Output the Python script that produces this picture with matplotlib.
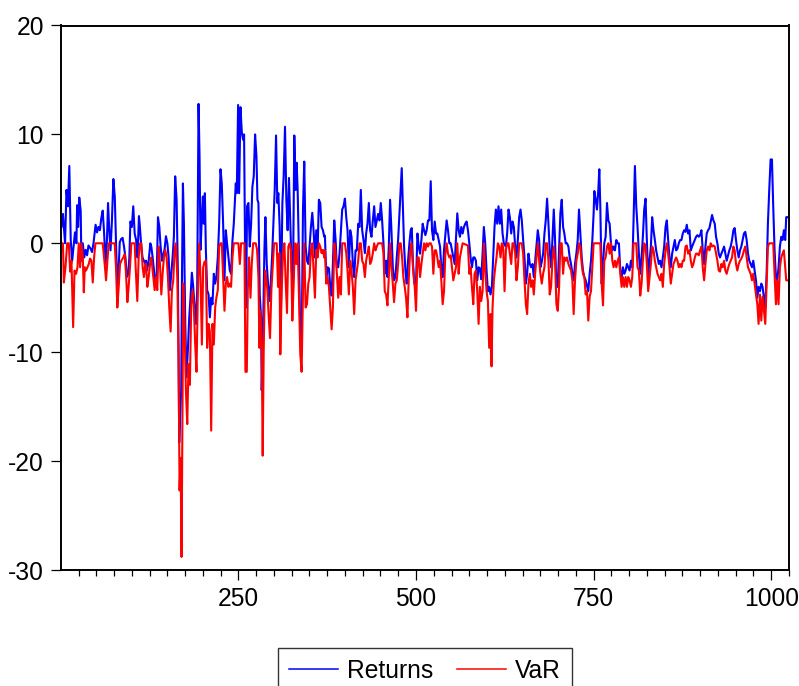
import numpy as np
import matplotlib
matplotlib.use("Agg")
import matplotlib.pyplot as plt
from matplotlib.ticker import MultipleLocator

plt.rcParams['font.family'] = ['Liberation Sans', 'DejaVu Sans']
plt.rcParams['axes.unicode_minus'] = False

# (observation, value) pairs for the return series
returns_pts = [
    (1, 1.5), (3, 2.7), (6, 0), (8, 4.9), (10, 3.4), (12, 7.1), (14, 0.3), (16, -1.6), (18, -0.3),
    (20, 1.0), (22, 0), (23, 3.5), (24.4, 1.5), (26, 4.2), (28, 3.0), (29, -1.6), (31, 0), (33, -1.3),
    (35, -0.6), (37, -1.1), (39, -0.2), (42, -0.5), (44, -0.8), (46, 0), (49, 1.7), (51, 1.0), (53, 1.5),
    (55, 1.2), (57, 2.3), (59, 3.0), (61, 0.9), (63, -1.9), (65, 0.3), (66.5, 3.7), (68, 1.5), (70, -0.65),
    (72, 2.1), (74, 5.9), (76, 4.3), (78, -0.65), (80, -4.7), (81.5, -2.2), (83, 0.1), (85, 0.4), (87, 0.5),
    (89, -0.3), (91, -1.3), (93, -3.1), (95, -2.8), (96.5, -1.3), (98, 2.0), (100, 1.5), (102, 3.4),
    (104, 0.9), (106, 0.3), (108, -1.3), (110, 2.5), (111, 1.8), (113, 0), (115, -1.3), (117, -1.6),
    (119, -1.9),
    (120, -1.6), (121.3, -2.5), (123.7, -1.6), (126, 0), (127.4, -0.3), (129.3, -1.3), (131.2, -2.5),
    (133, -3.6), (135, -3.1), (136.8, 2.4), (138.7, 1.5), (140.5, -0.3), (142.4, -1.6), (144.3, -1.0),
    (146, -0.6), (148, 0.65), (150, 0), (151.8, -1.3), (153.6, -4.3), (155.5, -2.8), (157.4, -1.3),
    (159.2, 0.6), (161, 6.15), (163, 4.0), (164.9, -3.1), (166.7, -18.3), (168, -15.7), (169.5, -13.5),
    (170.5, -3.7), (171.9, 5.5), (173.3, 1.8), (175.2, -7.4), (177, -12.3), (179, -9.6), (180.8, -6.8),
    (182.6, -5.0), (184.5, -2.7), (186.4, -4.0), (188.3, -5.9), (190, -7.4), (192, -4.3), (193.9, 12.8),
    (195.3, 8.0), (196.7, -0.6), (198.6, 2.4), (200, 4.3), (201.4, 1.8), (202.8, 4.6), (204.2, -0.6),
    (206, -4.3), (208, -4.7), (209.8, -6.8), (211.7, -5.0), (213.5, -5.6), (215.4, -2.8), (217.3, -3.7),
    (219, -3.1), (221, -1.3), (222.9, 1.8), (224.8, 6.8), (226.6, 5.5), (228.5, 1.8), (230.4, -3.4),
    (232.3, 1.2), (234, 0), (236, -1.3), (237.9, -2.5), (239.7, -2.8), (241.6, 0.2), (243.5, 1.8),
    (246.3, 5.5), (247.7, 4.6), (249.6, 12.7), (251, 4.6), (252.9, 12.5), (254.8, 10.2), (256.6, 9.5),
    (258, 10.0), (259.4, -0.6), (260.8, -5.9), (262.2, 3.4), (264.1, 3.7), (266, -0.3), (267.9, 1.8),
    (269.7, 5.2), (271.6, 6.15), (273.5, 10.0), (275.4, 8.0), (276.8, 4.0), (278.2, 3.7), (280, -4.7),
    (281.9, -6.8), (282.8, -13.5), (284.7, -8.1), (286.6, -0.6), (288, 2.4), (289.9, -1.9), (291.7, -3.7),
    (293.6, -5.3), (295.5, -3.7), (297.4, -1.3), (299.2, 1.8), (301.1, 4.9), (303, 9.9), (304.8, 3.7),
    (306.2, 4.6), (308.1, 1.5), (310, -5.6), (311.9, 3.7), (313.7, 6.15), (315.6, 10.7), (317.5, 4.0),
    (319.3, 1.2), (321.2, 6.0), (323.1, 1.8), (325, -2.5), (326.8, -3.7), (328.7, 9.9), (330.6, 4.9),
    (332, 7.4), (333.4, 4.9), (335.3, -1.3), (337.1, -8.7), (339, -9.9), (340.9, 3.1), (342.7, 7.5),
    (344.6, -0.3), (346.5, -1.6), (348.4, -1.9), (350.2, -0.3), (352.1, 1.5), (354, 2.8), (355.8, 1.2),
    (357.7, -1.3), (359.6, 1.2), (361.5, -0.6), (363.3, 4.0), (365.2, 3.7), (367.1, 1.5), (369, 1.2),
    (370.8, 0.6),
    (371.8, 0.7), (373.7, -3.1), (375.5, -2.2), (377.4, -2.3), (379.3, -4.0), (381.2, -4.8), (383, -1.9),
    (384.9, 2.1), (386.8, 0.3), (388.6, -2.2), (390.5, -2.2), (392.4, -0.9), (394.3, 1.2), (396.1, 3.1),
    (398, 3.4), (399.9, 4.1), (401.8, 2.4), (403.6, 1.2), (405.5, -2.2), (407.4, 1.2), (409.2, 0.6),
    (411.1, -1.9), (413, -3.1), (414.9, -0.65), (416.7, -0.65), (418.6, 1.8), (420.5, 1.5), (422.3, 4.9),
    (424.2, 1.2), (426.1, 0.3), (428, -0.9), (429.8, 0.9), (431.7, 1.8), (433.6, 3.7), (435.4, 1.2),
    (437.3, 0.6), (439.2, 2.1), (441.1, 3.4), (442.9, 1.5), (444.8, 2.1), (446.7, 2.7), (448.6, 2.1),
    (450.4, 3.7), (452.3, 2.1), (454.2, 0), (456, -2.8), (457.9, -1.6), (459.8, -3.1), (461.7, -0.3),
    (463.5, 4.0), (465.4, 1.2), (467.3, -2.2), (469.1, -3.4), (471, -3.1), (472.9, -1.3), (474.8, 0.3),
    (476.6, 2.7), (478.5, 5.2), (479.9, 6.9), (481.3, 3.7), (483.2, -0.3), (485.1, -2.5), (486.9, -3.7),
    (488.8, -1.6), (490.7, 0), (492.5, 1.2), (494, 1.4), (495.8, -1.9), (497.7, -3.7),
    (500, -3.7), (502, 0.9), (503.8, -0.3), (505.7, -0.95), (507.6, 0.3), (509.4, 1.8), (511.3, 1.2),
    (513.2, 0.75), (515, 1.2), (516.9, 2.1), (518.8, 2.1), (520.7, 5.7), (522.5, 1.2), (524.4, 0.3),
    (526.3, 2.0), (528.2, 0.9), (530, 0.9), (531.9, 0.3), (533.8, -0.3), (535.6, -2.2), (537.5, -3.1),
    (539.4, -0.65), (541.3, 0.75), (543.1, 2.1), (545, 1.2), (546.9, 0), (548.7, 0), (550.6, -0.65),
    (552.5, -1.3), (554.4, -1.9), (556.2, 0.3), (558.1, 2.75), (560, 1.2), (561.8, 0.6), (563.7, 1.5),
    (565.6, 0.9), (567.5, 1.5), (569.3, 1.8), (571.2, 2.0), (573.1, 1.2), (575, 0), (576.8, -1.3),
    (578.7, -2.2), (580.6, -1.3), (582.4, -1.3), (584.3, -1.6), (586.2, -3.4), (588.1, -2.2),
    (589.9, -2.3), (591.8, -3.3), (593.7, -0.95), (595.5, 1.5), (597.4, 0), (599.3, -2.5), (601.2, -4.4),
    (603, -4.0), (604.9, -4.7), (606.8, -4.0), (608.6, -1.3), (610.5, 1.5), (612.4, 3.1), (614.3, 1.8),
    (616.1, 3.4), (618, 1.8), (619.9, 3.1), (621.8, 0.9), (623.6, 0),
    (626.5, -0.3), (628.3, 0.9), (630.2, 3.1), (632.1, 2.4), (634, 0.9), (635.8, 2.0), (637.7, 1.5),
    (639.6, -0.3), (641.4, -1.3), (643.3, 0.3), (645.2, 2.4), (647.1, 3.1), (648.9, 2.1), (650.8, 0.3),
    (652.7, -1.3), (654.6, -3.7), (656.4, -2.8), (658.3, -0.95), (660.2, -1.9), (662, -2.2),
    (663.9, -1.9), (665.8, -3.1), (667.7, -1.6), (669.5, -0.3), (671.4, 1.2), (673.3, 0.3), (675.1, -2.2),
    (677, -1.7), (678.9, -0.95), (680.8, 0.9), (682.6, 2.1), (684.5, 4.1), (686.4, 1.8), (688.2, -0.65),
    (690.1, -2.2), (692, 0.3), (693.9, 3.1), (695.7, 0.3), (697.6, -4.0), (699.5, -4.0), (701.4, -0.65),
    (703.2, 2.75), (705.1, 4.0), (707, 1.5), (708.8, 0.9), (710.7, 0), (712.6, 0), (714.5, -0.3),
    (716.3, -1.3), (718.2, -1.9), (720.1, -2.8), (721.9, -3.4), (723.8, -1.9), (725.7, -0.95),
    (727.6, 0.3), (729.4, 3.1), (731.3, 0.9), (733.2, -1.3), (735, -2.5), (736.9, -3.1), (738.8, -3.4),
    (740.7, -3.9), (742.5, -4.4), (744.4, -2.8), (746.3, -1.6), (748.2, 0.3), (750, 2.75),
    (751, 4.8), (752.9, 4.0), (754.7, 3.1), (756.6, 4.9), (758, 6.8), (759.4, 3.4), (761.3, -3.7),
    (763.2, -1.9), (765, 0), (766.9, 0.6), (768.8, 3.7), (770.7, 2.1), (772.5, 1.8), (774.4, 0),
    (776.3, -0.65), (778.1, -0.3), (780, -0.65), (781.9, 0.3), (783.8, 0), (785.6, 0), (787.5, -2.5),
    (789.4, -3.1), (791.2, -2.2), (793.1, -2.8), (795, -2.5), (796.9, -1.9), (798.7, -2.2),
    (800.6, -2.5), (802.5, -1.6), (804.4, -2.2), (806.2, 2.1), (808.1, 7.1), (810, 3.4), (811.8, 1.5),
    (813.7, -0.95), (815.6, -2.8), (817.5, -1.3), (819.3, 0.6), (821.2, 3.1), (823.1, 4.1), (824.9, 0.3),
    (826.8, -3.1), (828.7, -1.6), (830.6, -0.3), (832.4, 2.4), (834.3, 1.2), (836.2, 0.3), (838, -0.65),
    (839.9, -1.3), (841.8, -1.9), (843.7, -1.6), (845.5, -2.2), (847.4, -1.3), (849.3, -0.3),
    (851.2, 1.5), (853, 2.1), (854.9, 0.3), (856.8, -1.3), (858.6, -2.2), (860.5, -0.95), (862.4, -0.3),
    (864.3, 0.3), (866.1, -0.65), (868, -0.5), (869.9, 0), (871.7, 0.3), (873.6, 0.3), (875.5, 0.9),
    (877.4, 1.2), (879.3, 1.05), (881.1, 1.7), (883, 0.9), (884.9, 1.2), (886.8, -0.65), (888.6, -0.3),
    (890.5, 0), (892.4, 0.3), (894.2, 0.6), (896.1, 0.75), (898, 0.6), (899.9, 0.75), (901.7, 1.2),
    (903.6, -0.65), (905.5, -1.9), (907.4, -0.3), (909.2, 0.9), (911.1, 1.2), (913, 1.4), (914.8, 2.0),
    (916.7, 2.6), (918.6, 2.1), (920.5, 1.8), (922.3, 0.6), (924.2, 0), (926.1, -0.95), (927.9, -1.3),
    (929.8, -0.95), (931.7, -0.65), (933.6, -0.3), (935.4, -0.95), (937.3, -1.6), (939.2, -1.1),
    (941, -0.65), (942.9, -0.3), (944.8, 0.3), (946.7, 1.2), (948.5, 1.4), (950.4, 0.3), (952.3, -0.65),
    (954.2, -1.3), (956, -0.65), (957.9, -0.3), (959.8, 0.3), (961.6, 0.9), (963.5, 1.05), (965.4, 0.3),
    (967.3, -0.95), (969.1, -1.6), (971, -1.9), (972.9, -2.2), (974.7, -1.6), (976.6, -2.5),
    (978.5, -3.4), (980.4, -5.0), (982.2, -4.0), (984.1, -4.4), (986, -3.7), (987.8, -4.0), (989.7, -5.0),
    (991.6, -5.9), (993.5, -2.8), (995.3, 1.8), (997.2, 4.9), (999.1, 7.7), (1001, 7.7), (1002.8, 3.4),
    (1004.7, -0.65), (1006.6, -3.1), (1008.4, -3.4), (1010.3, -2.2), (1012.2, -0.3), (1014.1, 0.6),
    (1015.9, 0.3), (1017.8, 1.2), (1019.7, 0.3), (1021.1, 2.4), (1025, 2.4),
]

# (observation, value) pairs for the value-at-risk series
var_pts = [
    (1, 0), (3, 0), (4.3, -3.6), (6.6, -2.2), (9, 0), (11.3, 0), (13.2, -2.6), (15, -1.6), (17.4, -7.7),
    (19.3, -2.5), (21.6, -2.8), (23.5, -2.2), (25.3, 0), (27.2, -2.2), (29, 0), (31, -1.3), (32.4, -4.5),
    (33.8, -2.2), (35.6, -2.5), (37.5, -2.2), (39.4, -1.9), (41.2, -1.4), (43.1, -1.6), (45, -3.6),
    (46.9, -1.3), (48.7, 0), (59, 0), (61.8, -1.9), (63.7, -3.4), (65.6, -1.6), (67.5, 0), (75.9, 0),
    (77.7, -2.2), (79.6, -5.9), (81.5, -4.0), (83.4, -1.9), (85.2, -1.6), (88, -1.3), (90, -1.0),
    (91.8, -2.8), (93.7, -5.4), (95.5, -4.0), (97.4, -2.2), (99.3, 0), (104, 0), (105.8, -2.8),
    (107.7, -5.3), (109.6, -1.3), (111.4, 0), (113.3, 0), (115.2, -2.2), (117, -3.1), (118.9, -1.9),
    (120, -1.9), (121.8, -4.0), (123.7, -3.1), (125.6, -1.9), (127.4, -1.3), (129.3, -2.5), (132.1, -4.3),
    (134, -3.1), (135.8, -4.3), (137.7, -0.3), (139.6, -1.9), (141.5, -4.7), (143.3, -2.8), (145.2, -1.3),
    (147, -0.6), (149, -1.3), (150.8, -3.1), (152.7, -5.9), (154.6, -8.1), (156.4, -4.3), (158.3, -3.4),
    (160.2, -0.6), (162, 0), (164, -3.1), (165.8, -10.5), (167.2, -22.7), (168.6, -19.7), (170, -28.8),
    (171.4, -13.5), (172.4, -3.7), (174.2, -7.4), (176.1, -13.5), (178, -16.6), (179.8, -11.1),
    (181.7, -13.0), (183.6, -5.6), (185.5, -4.3), (187.3, -5.9), (189.2, -9.3), (191, -11.8),
    (193, -4.3), (194.8, 0), (196.7, -3.1), (198.6, -9.3), (200.4, -2.2), (202.3, -1.7), (204.2, -1.6),
    (206, -9.6), (208, -7.4), (209.8, -8.1), (211.7, -17.2), (213.5, -7.4), (215.4, -9.3), (217.3, -5.9),
    (219, -5.0), (221, -4.3), (222.9, -0.3), (224.8, 0), (226.6, 0), (228.5, -3.1), (230.4, -6.2),
    (232.3, -3.7), (234, -3.1), (236, -4.0), (237.9, -3.7), (239.7, -4.0), (241.6, -1.3), (243.5, 0),
    (250, 0), (252, -1.9), (253.8, 0), (258.5, 0), (259.9, -11.8), (261.8, -11.8), (263.2, -4.3),
    (265, -1.3), (267, -5.0), (268.8, -1.9), (270.7, 0), (274.4, 0), (276.3, -0.6), (278.2, -3.1),
    (279.6, -9.6), (281, -6.2), (282.8, -9.3), (284.2, -19.5), (285.6, -9.9), (287.5, -2.5),
    (288.9, -3.1), (290.8, -4.3), (292.7, -6.8), (294.5, -8.7), (296.4, -4.3), (298.3, -2.2),
    (300.2, 0), (303.9, 0), (305.8, -4.0), (307.6, -0.9), (309, -10.2), (310.9, -4.3), (312.8, -0.9),
    (314.7, 0), (316.5, -3.4), (318.4, -6.4), (320.3, -0.3), (322.2, 0), (324, -0.6), (325.9, -7.1),
    (327.8, -3.7), (329.6, 0), (331.5, -1.9), (333.4, 0), (335.3, -5.0), (337.1, -10.2), (339, -11.8),
    (340.9, -4.3), (342.7, 0), (344.6, -5.9), (346.5, -5.6), (348.4, -3.7), (350.2, -3.1), (352.1, -0.6),
    (354, 0), (355.8, -2.5), (357.7, -5.0), (359.6, -0.6), (361.5, -1.3), (363.3, 0), (365.2, -0.3),
    (367.1, -0.9), (369, -0.6), (370.8, -1.3),
    (371.8, -0.65), (373.7, -3.7), (375.5, -3.1), (377.4, -4.0), (379.3, -5.9), (381.2, -7.9), (383, -5.9),
    (384.9, 0), (386.8, -0.9), (388.6, -2.8), (390.5, -5.0), (392.4, -3.1), (394.3, -4.7), (396.1, 0),
    (399.9, 0), (401.8, -0.9), (403.6, -2.5), (405.5, -4.7), (407.4, -1.6), (409.2, -2.5), (411.1, -4.0),
    (413, -6.5), (414.9, -3.4), (416.7, -2.5), (418.6, -1.6), (420.5, 0), (422.3, 0), (424.2, -1.6),
    (426.1, -1.9), (428, -3.1), (429.8, -1.6), (431.7, -0.9), (433.6, -0.3), (435.4, -1.9), (437.3, -1.6),
    (439.2, -0.9), (441.1, 0), (442.9, -0.65), (444.8, -0.3), (446.7, 0), (452.3, 0), (454.2, -0.9),
    (456, -4.4), (457.9, -4.7), (459.8, -5.7), (461.7, -3.1), (463.5, 0), (465.4, -2.2), (467.3, -3.7),
    (469.1, -5.4), (471, -3.7), (472.9, -3.4), (474.8, -1.9), (476.6, 0), (478.5, 0), (480.4, -1.3),
    (482.2, -3.1), (484.1, -4.0), (486, -5.0), (487.9, -6.8), (489.7, -3.4), (491.6, -0.9), (493.5, 0),
    (495.4, -1.9), (497.2, -3.4),
    (498.2, -4.0), (500, -6.2), (502, -1.3), (503.8, -1.3), (505.7, -3.1), (507.6, -1.9), (509.4, -0.95),
    (511.3, 0), (513.2, -0.65), (515, 0), (516.9, -0.3), (518.8, 0), (520.7, 0), (522.5, -0.3),
    (524.4, -2.8), (526.3, -0.65), (528.2, -0.65), (530, -1.3), (531.9, -2.2), (533.8, -1.6),
    (535.6, -3.4), (537.5, -5.6), (539.4, -4.4), (541.3, -0.95), (543.1, 0), (545, -0.95), (546.9, -1.3),
    (548.7, -1.1), (550.6, -2.2), (552.5, -3.4), (554.4, -2.8), (556.2, -2.2), (558.1, 0), (560, -2.8),
    (561.8, -1.3), (563.7, -0.65), (565.6, 0), (573.1, -0.2), (575, -2.8), (576.8, -2.2), (578.7, -4.0),
    (580.6, -5.6), (582.4, -2.8), (584.3, -2.5), (586.2, -4.4), (588.1, -7.4), (589.9, -4.0),
    (591.8, -5.3), (593.7, -4.4), (595.5, 0), (597.4, -2.5), (599.3, -4.4), (601.2, -5.3), (603, -9.6),
    (604.9, -6.5), (606.3, -11.3), (607.7, -5.9), (609.6, -3.4), (611.5, -2.2), (613.3, -1.3), (615.2, 0),
    (617.1, -0.3), (619, -1.3), (620.8, 0), (622.7, -0.3),
    (624.6, -4.4), (626.5, -0.65), (628.3, 0), (630.2, 0), (632.1, -0.95), (634, -1.9), (635.8, 0),
    (637.7, 0), (639.6, -0.95), (641.4, -3.4), (643.3, -2.2), (645.2, 0), (648.9, 0), (650.8, -0.95),
    (652.7, -3.4), (654.6, -5.6), (656.4, -6.5), (658.3, -3.7), (660.2, -2.8), (662, -4.0), (663.9, -3.4),
    (665.8, -4.7), (667.7, -2.8), (669.5, -1.3), (671.4, 0), (673.3, -1.6), (675.1, -2.8), (677, -3.7),
    (678.9, -2.8), (680.8, -2.2), (682.6, 0), (684.5, 0), (686.4, -1.6), (688.2, -4.7), (690.1, -4.0),
    (692, -1.6), (693.9, -0.3), (695.7, -1.6), (697.6, -5.6), (699.5, -6.2), (701.4, -4.0), (703.2, 0),
    (705.1, 0), (707, -2.8), (708.8, -1.3), (710.7, -1.6), (712.6, -1.3), (714.5, -1.9), (716.3, -2.2),
    (718.2, -2.5), (720.1, -3.4), (721.9, -6.5), (723.8, -3.4), (725.7, -1.6), (727.6, -0.95), (729.4, 0),
    (731.3, -0.3), (733.2, -1.9), (735, -2.8), (736.9, -3.1), (738.8, -4.7), (740.7, -4.4), (742.5, -7.1),
    (744.4, -4.9), (746.3, -4.4), (748.2, -2.2), (750, 0),
    (759.4, 0), (761.3, -3.7), (763.2, -5.7), (765, -1.6), (766.9, -1.3), (768.8, -0.3), (770.7, 0),
    (772.5, -0.95), (774.4, 0), (776.3, -1.6), (778.1, -2.2), (780, -1.6), (781.9, -2.2), (783.8, -1.6),
    (785.6, -1.3), (787.5, -2.8), (789.4, -4.0), (791.2, -3.1), (793.1, -4.0), (795, -3.1), (796.9, -4.0),
    (798.7, -3.1), (800.6, -3.4), (802.5, -4.0), (804.4, -3.1), (806.2, 0), (810, 0), (811.8, -2.2),
    (813.7, -2.5), (815.6, -4.8), (817.5, -3.7), (819.3, -1.6), (821.2, 0), (823.1, -0.3), (824.9, -1.9),
    (826.8, -4.4), (828.7, -3.1), (830.6, -1.9), (832.4, -0.3), (834.3, -0.65), (836.2, -1.6),
    (838, -2.2), (839.9, -2.8), (841.8, -3.1), (843.7, -3.4), (845.5, -2.8), (847.4, -4.0),
    (849.3, -1.9), (851.2, -0.65), (853, 0), (854.9, -0.95), (856.8, -2.2), (858.6, -3.7), (860.5, -2.8),
    (862.4, -1.9), (864.3, -1.6), (866.1, -1.3), (868, -1.6), (869.9, -2.2), (871.7, -1.9), (873.6, -2.2),
    (875.5, -1.6),
    (877.4, -1.6), (879.3, -0.3), (881.1, -0.2), (883, -0.95), (884.9, -0.65), (886.8, -1.6),
    (888.6, -2.2), (890.5, -1.9), (892.4, -1.3), (894.2, -0.95), (896.1, -0.95), (898, -1.1),
    (899.9, -0.65), (901.7, -0.3), (903.6, -2.2), (905.5, -3.4), (907.4, -1.9), (909.2, -0.65),
    (911.1, -0.3), (913, -0.65), (914.8, 0), (916.7, -0.3), (918.6, -0.2), (920.5, -0.3), (922.3, -0.95),
    (924.2, -1.6), (926.1, -2.5), (927.9, -2.6), (929.8, -1.9), (931.7, -2.2), (933.6, -1.6),
    (935.4, -2.5), (937.3, -2.8), (939.2, -2.3), (941, -1.9), (942.9, -1.6), (944.8, -1.3), (946.7, -0.3),
    (948.5, -0.65), (950.4, -1.9), (952.3, -2.5), (954.2, -1.9), (956, -1.6), (957.9, -1.4),
    (959.8, -1.1), (961.6, -0.65), (963.5, -0.3), (965.4, -1.3), (967.3, -2.2), (969.1, -2.5), (971, -2.8),
    (972.9, -3.4), (974.7, -2.8), (976.6, -3.7), (978.5, -4.7), (980.4, -5.6), (982.2, -7.4),
    (984.1, -4.7), (986, -7.1), (987.8, -4.9), (989.7, -6.2), (991.6, -7.4), (993.5, -3.7), (995.3, -0.3),
    (997.2, 0), (1002.8, 0), (1004.7, -2.8), (1006.6, -5.6), (1008.4, -3.4), (1010.3, -5.6),
    (1012.2, -2.2), (1014.1, -1.3), (1015.9, -0.95), (1017.8, -0.65), (1019.7, -2.2), (1021.1, -3.4),
    (1025, -3.4),
]

y_ticks = [-30, -20, -10, 0, 10, 20]
x_ticks = [250, 500, 750, 1000]
first_obs, last_obs = 1, 1025

ret_obs, ret_val = np.array(returns_pts).T
var_obs, var_val = np.array(var_pts).T

W, H = 799, 686
fig = plt.figure(figsize=(W / 100, H / 100), dpi=100)
left, right, top, bottom = 61.5, 789, 25.5, 570
ax = fig.add_axes([left / W, 1 - bottom / H, (right - left) / W, (bottom - top) / H])

ax.plot(ret_obs, ret_val, color='#0000ff', lw=1.5, label='Returns')
ax.plot(var_obs, var_val, color='#ff0000', lw=1.5, label='VaR')

ax.set_xlim(first_obs, last_obs)
ax.set_ylim(-30, 20)
ax.set_yticks(y_ticks)
ax.set_xticks(x_ticks)
ax.xaxis.set_minor_locator(MultipleLocator(25))
ax.tick_params(axis='both', which='both', direction='out', labelsize=17.7, width=0.9, colors='black')
ax.tick_params(axis='x', which='major', length=7.2, pad=5)
ax.tick_params(axis='x', which='minor', length=4.3)
ax.tick_params(axis='y', length=7.2, pad=5.5)
for s in ax.spines.values():
    s.set_linewidth(1.4)
    s.set_color('black')

leg = fig.legend(loc='upper center', bbox_to_anchor=(425 / W, 1 - 648 / H), ncol=2, frameon=True,
                 fancybox=False, edgecolor='black', fontsize=17.7, handlelength=2.0,
                 handletextpad=0.36, columnspacing=0.96, borderpad=0.44, borderaxespad=0)
leg.get_frame().set_linewidth(1.0)
for line in leg.get_lines():
    line.set_linewidth(1.1)

fig.savefig('out.png', dpi=100)
